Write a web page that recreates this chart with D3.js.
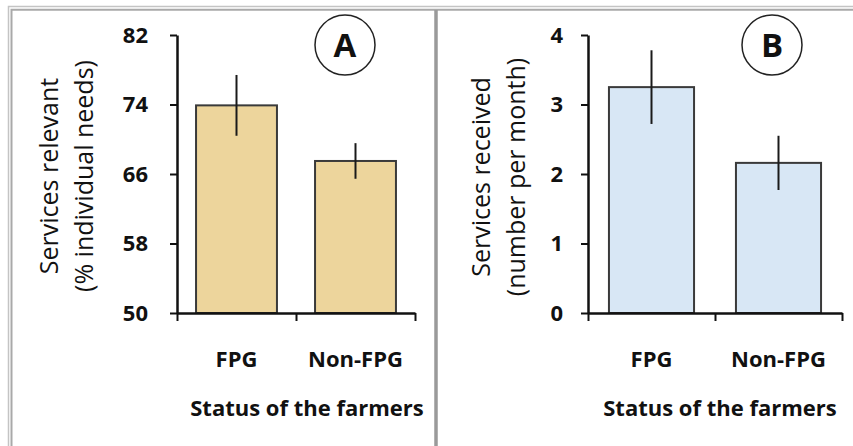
<!DOCTYPE html>
<html>
<head>
<meta charset="utf-8">
<script src="https://cdn.jsdelivr.net/npm/d3@7"></script>
<style>
  body { margin: 0; background: #fff; }
  svg text { font-family: "Open Sans", sans-serif; fill: #111; }
</style>
</head>
<body>
<script>
// data
var categories = ["FPG", "Non-FPG"];
var relevantMean = [73.9, 67.5];
var relevantErr = [3.5, 2.05];
var relevantTicks = [50, 58, 66, 74, 82];
var receivedMean = [3.25, 2.16];
var receivedErr = [0.53, 0.39];
var receivedTicks = [0, 1, 2, 3, 4];

var width = 853, height = 446;
var font = "'Open Sans', sans-serif";

var svg = d3.select("body").append("svg")
    .attr("width", width)
    .attr("height", height);

// frame: double gray line on top and left, divider between panels
svg.append("path").attr("d", "M8.5," + height + "V6.5H" + width)
    .attr("fill", "none").attr("stroke", "#c4c4c4").attr("stroke-width", 1.5);
svg.append("path").attr("d", "M11.5," + height + "V9.8H" + width)
    .attr("fill", "none").attr("stroke", "#a9a9a9").attr("stroke-width", 2);
svg.append("line").attr("x1", 436).attr("x2", 436).attr("y1", 10).attr("y2", height)
    .attr("stroke", "#9a9a9a").attr("stroke-width", 3.5);

function drawPanel(p) {
  var g = svg.append("g");

  var y = d3.scaleLinear().domain(p.domain).range([313, 35]);
  var x = d3.scaleBand().domain(categories).range([p.x0, p.x1]).padding(0);
  var barW = x.bandwidth() * p.barFrac;

  // bars
  g.selectAll("rect.bar")
    .data(p.mean)
    .enter().append("rect")
    .attr("class", "bar")
    .attr("x", function (d, i) { return x(categories[i]) + (x.bandwidth() - barW) / 2; })
    .attr("y", function (d) { return y(d); })
    .attr("width", barW)
    .attr("height", function (d) { return y(p.domain[0]) - y(d); })
    .attr("fill", p.fill)
    .attr("stroke", "#3a3a3a")
    .attr("stroke-width", 2);

  // error bars
  g.selectAll("line.err")
    .data(p.mean)
    .enter().append("line")
    .attr("class", "err")
    .attr("x1", function (d, i) { return x(categories[i]) + x.bandwidth() / 2; })
    .attr("x2", function (d, i) { return x(categories[i]) + x.bandwidth() / 2; })
    .attr("y1", function (d, i) { return y(d + p.err[i]); })
    .attr("y2", function (d, i) { return y(d - p.err[i]); })
    .attr("stroke", "#1a1a1a")
    .attr("stroke-width", 2);

  // y axis
  var yAxis = g.append("g")
    .attr("transform", "translate(" + p.x0 + ",0)")
    .call(d3.axisLeft(y).tickValues(p.ticks).tickFormat(d3.format("d"))
      .tickSize(7).tickSizeOuter(0).tickPadding(p.tickPad));
  yAxis.select(".domain").attr("stroke", "#111").attr("stroke-width", 2.5);
  yAxis.selectAll(".tick line").attr("stroke", "#111").attr("stroke-width", 2);
  yAxis.selectAll(".tick text")
    .attr("font-size", 22).attr("font-weight", 700)
    .attr("font-family", font).attr("fill", "#111");

  // x axis: ticks at category boundaries
  var xb = d3.scaleLinear().domain([0, categories.length]).range([p.x0, p.x1]);
  var xAxis = g.append("g")
    .attr("transform", "translate(0,313)")
    .call(d3.axisBottom(xb).tickValues(d3.range(categories.length + 1))
      .tickSize(8).tickSizeOuter(0).tickFormat(""));
  xAxis.select(".domain").attr("stroke", "#111").attr("stroke-width", 2.5);
  xAxis.selectAll(".tick line").attr("stroke", "#111").attr("stroke-width", 2);

  // category labels
  var xLab = g.append("g")
    .attr("transform", "translate(0,313)")
    .call(d3.axisBottom(x).tickSize(0).tickPadding(38));
  xLab.select(".domain").remove();
  xLab.selectAll(".tick text")
    .attr("font-size", 22).attr("font-weight", 700)
    .attr("font-family", font).attr("fill", "#111");

  // axis titles
  g.append("text")
    .attr("x", p.xTitleX).attr("y", 416)
    .attr("text-anchor", "middle")
    .attr("font-size", 22).attr("font-weight", 700)
    .attr("fill", "#222")
    .text("Status of the farmers");

  g.selectAll("text.ytitle")
    .data(p.yTitle)
    .enter().append("text")
    .attr("class", "ytitle")
    .attr("text-anchor", "middle")
    .attr("transform", function (d, i) {
      return "translate(" + p.yTitleX[i] + "," + p.yTitleY + ") rotate(-90)";
    })
    .attr("font-size", 25)
    .text(function (d) { return d; });

  // panel letter
  g.append("circle")
    .attr("cx", p.letterX).attr("cy", 45).attr("r", 30)
    .attr("fill", "none").attr("stroke", "#222").attr("stroke-width", 1.5);
  g.append("text")
    .attr("x", p.letterX).attr("y", 57)
    .attr("text-anchor", "middle")
    .attr("font-size", 33).attr("font-weight", 700)
    .text(p.letter);
}

drawPanel({
  domain: [50, 82], ticks: relevantTicks,
  mean: relevantMean, err: relevantErr,
  x0: 177, x1: 415, barFrac: 0.68, tickPad: 22,
  fill: "#edd59c",
  xTitleX: 307,
  yTitle: ["Services relevant", "(% individual needs)"],
  yTitleX: [58, 93], yTitleY: 176,
  letter: "A", letterX: 345
});

drawPanel({
  domain: [0, 4], ticks: receivedTicks,
  mean: receivedMean, err: receivedErr,
  x0: 588, x1: 842, barFrac: 0.67, tickPad: 18,
  fill: "#d8e7f5",
  xTitleX: 720,
  yTitle: ["Services received", "(number per month)"],
  yTitleX: [490, 525], yTitleY: 177,
  letter: "B", letterX: 772
});
</script>
</body>
</html>
